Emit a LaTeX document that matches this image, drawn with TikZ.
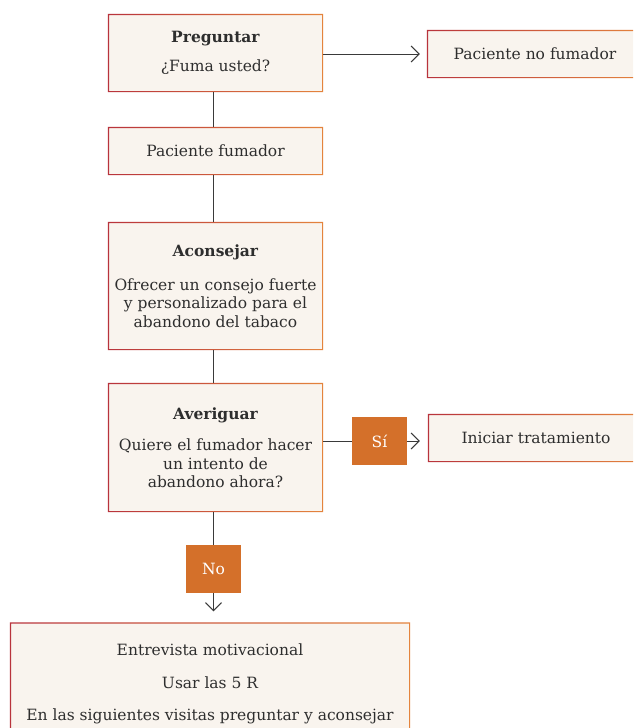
\documentclass[tikz,border=0pt]{standalone}
\usepackage{fontspec}
\setmainfont{DejaVu Serif}
\usetikzlibrary{arrows.meta}
\definecolor{boxfill}{HTML}{F9F4EE}
\definecolor{txt}{HTML}{2E2E2E}
\definecolor{borderL}{HTML}{B8333C}
\definecolor{borderR}{HTML}{E4843D}
\definecolor{tagc}{HTML}{D4702A}
\definecolor{linec}{HTML}{3A3A3A}
\begin{document}
\begin{tikzpicture}[x=1pt,y=-1pt,
  box/.style={fill=boxfill, text=txt, align=center, inner sep=0pt, font=\fontsize{15.5}{18.5}\selectfont},
  tagbox/.style={fill=tagc, text=white, minimum width=55pt, minimum height=48pt, inner sep=0pt, font=\fontsize{15.5}{18.5}\selectfont},
  conn/.style={draw=linec, line width=1pt},
  arr/.style={conn, -{Straight Barb[length=8pt,width=16pt]}}]
\clip (0,0) rectangle (633,728);
\fill[white] (0,0) rectangle (633,728);
\node[box, minimum width=215pt, minimum height=78pt] (preg) at (215.5,53) {\textbf{Preguntar}\\[11pt]¿Fuma usted?};
\node[box, minimum width=216pt, minimum height=48pt] (nofum) at (535,54) {Paciente no fumador};
\node[box, minimum width=215pt, minimum height=48pt] (fum) at (215.5,151) {Paciente fumador};
\node[box, minimum width=215pt, minimum height=128pt] (acon) at (215.5,286) {\textbf{Aconsejar}\\[15pt]Ofrecer un consejo fuerte\\y personalizado para el\\abandono del tabaco};
\node[box, minimum width=215pt, minimum height=129pt] (aver) at (215.5,447.5) {\textbf{Averiguar}\\[13pt]Quiere el fumador hacer\\un intento de\\abandono ahora?};
\node[tagbox] (si) at (379.5,441) {Sí};
\node[box, minimum width=216pt, minimum height=48pt] (inic) at (536,438) {Iniciar tratamiento};
\node[tagbox] (no) at (213.5,569) {No};
\node[box, minimum width=400pt, minimum height=123pt] (entr) at (210,684) {Entrevista motivacional\\[14pt]Usar las 5 R\\[14pt]En las siguientes visitas preguntar y aconsejar};
\foreach \n in {preg,nofum,fum,acon,aver,inic,entr} {
  \shade[left color=borderL, right color=borderR, even odd rule]
    (\n.south west) rectangle (\n.north east)
    ([shift={(1.2pt,1.2pt)}]\n.south west) rectangle ([shift={(-1.2pt,-1.2pt)}]\n.north east);
}
\draw[arr, shorten >=7pt] (preg.east |- nofum.west) -- (nofum.west);
\draw[conn] (preg.south -| no.north) -- (fum.north -| no.north);
\draw[conn] (fum.south -| no.north) -- (acon.north -| no.north);
\draw[conn] (acon.south -| no.north) -- (aver.north -| no.north);
\draw[conn] (aver.east |- si.west) -- (si.west);
\draw[arr, shorten >=8pt] (si.east) -- (inic.west |- si.east);
\draw[conn] (aver.south -| no.north) -- (no.north);
\draw[arr, shorten >=11pt] (no.south) -- (entr.north -| no.south);
\end{tikzpicture}
\end{document}
